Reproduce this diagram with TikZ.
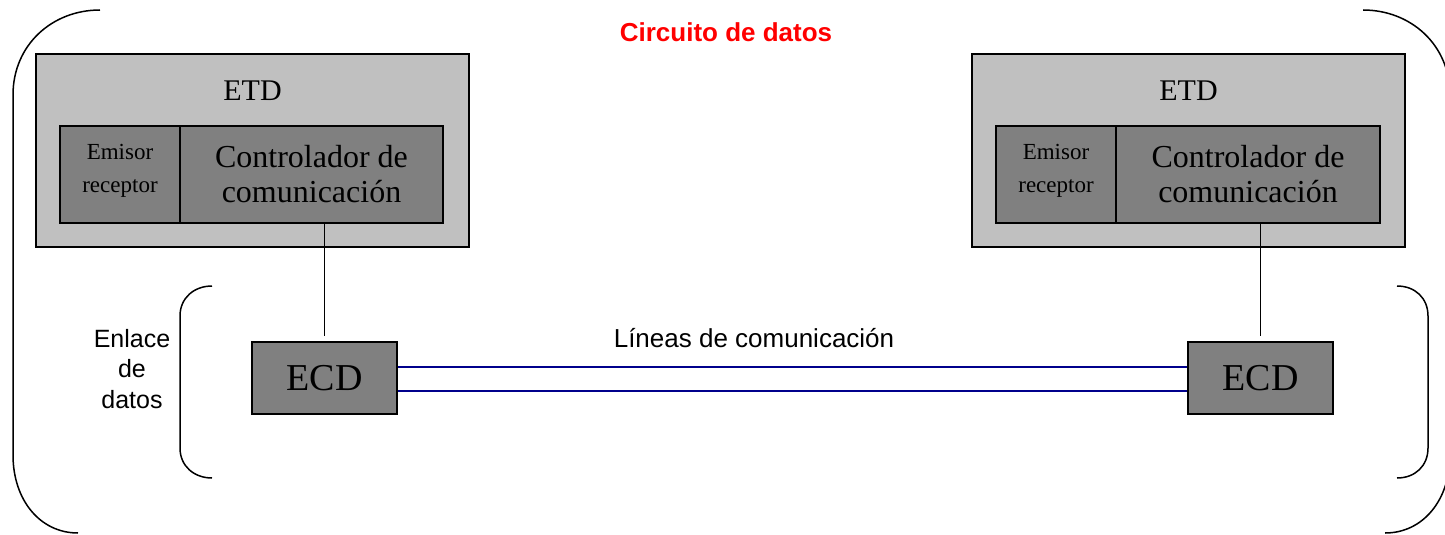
\documentclass[tikz,border=0pt]{standalone}
\usepackage{fontspec}
\setmainfont{Liberation Serif}
\newfontfamily\arialfont{Liberation Sans}

\definecolor{etdgray}{RGB}{192,192,192}
\definecolor{boxgray}{RGB}{128,128,128}
\definecolor{linkblue}{RGB}{0,0,140}

\tikzset{
  etdbox/.style={draw=black, fill=etdgray, line width=1.5pt, inner sep=0pt,
    minimum width=433pt, minimum height=193pt},
  graybox/.style={draw=black, fill=boxgray, line width=1.5pt, inner sep=0pt, align=center},
  bracket/.style={line width=1.5pt},
  wire/.style={draw=linkblue, line width=1.5pt},
  sanstext/.style={font=\arialfont\fontsize{25}{30.5}\selectfont, align=center}
}

\begin{document}
\begin{tikzpicture}[x=1pt, y=-1pt]
  \def\xl{0}
  \def\xr{936}
  \def\yc{174.5}

  \useasboundingbox (0,0) rectangle (1445,535);

  % circuito de datos
  \draw[bracket] (100,10) .. controls (52,10) and (13,45) .. (13,95) -- (13,455)
    .. controls (13,500) and (40,533) .. (78,533);
  \draw[bracket] (1363,10) .. controls (1411,10) and (1450,45) .. (1450,95) -- (1450,455)
    .. controls (1450,500) and (1423,533) .. (1385,533);
  \node[font=\arialfont\fontsize{26}{30}\selectfont\bfseries, text=red] (titulo) at (726,32) {Circuito de datos};

  % enlace de datos
  \draw[bracket] (212,286) .. controls (194,286) and (180,298) .. (180,316) -- (180,448)
    .. controls (180,466) and (194,478) .. (212,478);
  \draw[bracket] (1397,286) .. controls (1415,286) and (1428,298) .. (1428,316) -- (1428,448)
    .. controls (1428,466) and (1415,478) .. (1397,478);
  \node[sanstext] (enlace) at (132,369) {Enlace\\de\\datos};

  % ETD izquierdo
  \node[etdbox] (etdL) at (\xl + 252.5, 150.5) {};
  \node[font=\fontsize{30}{34}\selectfont] (etdtxtL) at (\xl + 252.5, 91) {ETD};
  \node[graybox, minimum width=120pt, minimum height=97pt] (emisorL) at (\xl + 120, \yc) {};
  \node[align=center, font=\fontsize{23}{33}\selectfont] (emisortxtL) at (\xl + 120, \yc - 3.5) {Emisor\\receptor};
  \node[graybox, minimum width=263pt, minimum height=97pt, font=\fontsize{32}{35}\selectfont]
    (ctrlL) at (\xl + 311.5, \yc) {Controlador de\\comunicación};
  \node[graybox, minimum width=145pt, minimum height=72pt, font=\fontsize{38}{40}\selectfont]
    (ecdL) at (\xl + 324.5, 378) {ECD};

  % ETD derecho
  \node[etdbox] (etdR) at (\xr + 252.5, 150.5) {};
  \node[font=\fontsize{30}{34}\selectfont] (etdtxtR) at (\xr + 252.5, 91) {ETD};
  \node[graybox, minimum width=120pt, minimum height=97pt] (emisorR) at (\xr + 120, \yc) {};
  \node[align=center, font=\fontsize{23}{33}\selectfont] (emisortxtR) at (\xr + 120, \yc - 3.5) {Emisor\\receptor};
  \node[graybox, minimum width=264pt, minimum height=97pt, font=\fontsize{32}{35}\selectfont]
    (ctrlR) at (\xr + 312, \yc) {Controlador de\\comunicación};
  \node[graybox, minimum width=145pt, minimum height=72pt, font=\fontsize{38}{40}\selectfont]
    (ecdR) at (\xr + 324.5, 378) {ECD};

  \draw[line width=1.2pt, shorten >=5pt] (ecdL.north |- ctrlL.south) -- (ecdL.north);
  \draw[line width=1.2pt, shorten >=5pt] (ecdR.north |- ctrlR.south) -- (ecdR.north);

  % lineas de comunicacion
  \draw[wire] ([yshift=11pt]ecdL.east) -- ([yshift=11pt]ecdR.west);
  \draw[wire] ([yshift=-13pt]ecdL.east) -- ([yshift=-13pt]ecdR.west);
  \node[sanstext, font=\arialfont\fontsize{26}{30}\selectfont] (lineas) at (754,338) {Líneas de comunicación};
\end{tikzpicture}
\end{document}
